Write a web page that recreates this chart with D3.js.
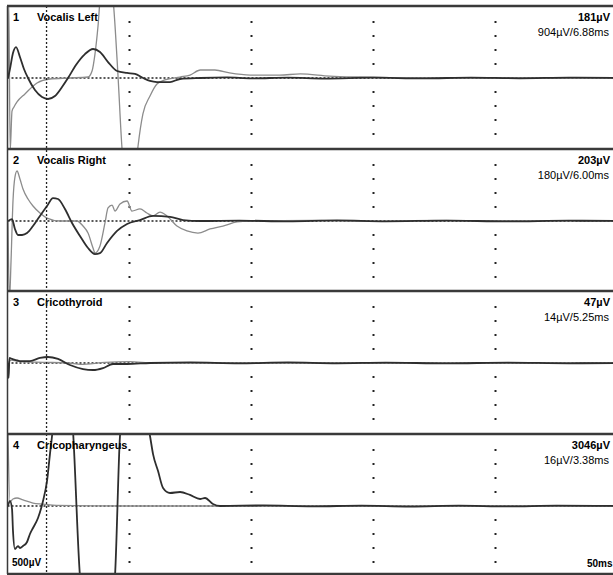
<!DOCTYPE html>
<html lang="en">

<head>
  <meta charset="UTF-8">
  <title>EMG traces</title>
  <style>
    body {
      margin: 0;
      background: #fff;
    }

    svg {
      display: block;
    }
  </style>
</head>

<body>
  <svg id="svg" width="613" height="575" font-family="'Liberation Sans', Arial, sans-serif" font-size="11"></svg>

  <script src="https://d3js.org/d3.v7.min.js"></script>
  <script>
    // channel labels
    var channelNums = ["1", "2", "3", "4"];
    var channelNames = ["Vocalis Left", "Vocalis Right", "Cricothyroid", "Cricopharyngeus"];
    var peakLabels = ["181µV", "203µV", "47µV", "3046µV"];
    var cursorLabels = ["904µV/6.88ms", "180µV/6.00ms", "14µV/5.25ms", "16µV/3.38ms"];

    // axis markers (ms, divisions)
    var gridMs = [10, 20, 30, 40, 50];
    var gridDiv = [-4, -3, -2, -1, 1, 2, 3, 4];
    var cursorMs = 3.2;
    var ampLabel = "500µV";
    var timeLabel = "50ms";

    // traces: [ms, divisions]; dark = first recording, light = second
    var dark1 = [[0.04, 0], [0.2, 0.64], [0.45, 1.79], [0.7, 2.21], [1.02, 1.5], [1.35, 0.64], [1.68, 0], [2.25, -0.86],
      [2.83, -1.36], [3.32, -1.5], [3.89, -1.29], [4.47, -0.64], [4.96, 0], [5.61, 0.93], [6.35, 1.71], [7.01, 2.07],
      [7.58, 1.86], [8.24, 1.14], [8.98, 0.5], [9.8, 0.36], [10.45, 0.29], [11.11, 0], [11.68, -0.21], [12.25, -0.29],
      [13.32, -0.29], [14.14, -0.07], [15.8, 0], [18, 0.04], [20, -0.03], [23, 0.03], [26, -0.04], [30, 0.02],
      [34, -0.03], [38, 0.03], [42, -0.02], [46, 0.03], [50, 0]];
    var light1 = [[0.04, 0], [0.1, 5.6], [0.22, -5.2], [0.37, -2.36], [0.53, -2.07], [0.78, -1.71], [1.43, -1.14],
      [2.42, -0.36], [3.48, -0.07], [5.1, 0], [6.6, 0.07], [6.93, 0.5], [7.17, 1.71], [7.42, 3.71], [7.66, 6.36],
      [7.9, 7.1], [8.4, 7.1], [8.65, 5.64], [9.05, 0.29], [9.39, -5.07], [9.6, -6.9], [10.45, -6.9], [10.7, -4.86],
      [11.1, -2.57], [11.68, -1.29], [12.25, -0.43], [12.9, -0.14], [14.14, 0.07], [14.96, 0.21], [15.8, 0.57],
      [17.0, 0.57], [18.2, 0.36], [19.9, 0.21], [22.3, 0.21], [24.0, 0.29], [26.4, 0.14], [28.9, 0.07], [32, 0.02],
      [40, 0], [50, 0]];

    var dark2 = [[0.04, 0], [0.37, 0.14], [0.61, -0.57], [0.86, -1.0], [1.19, -1.0], [1.6, -0.86], [2.09, -0.36],
      [2.66, 0.36], [3.24, 1.07], [3.73, 1.64], [4.14, 1.57], [4.71, 0.86], [5.29, -0.14], [5.94, -1.07], [6.6, -1.93],
      [7.17, -2.36], [7.58, -2.29], [8.16, -1.57], [8.98, -0.71], [9.8, -0.21], [10.86, 0.07], [11.93, 0.36],
      [13.32, 0.29], [14.39, 0.07], [15.78, 0], [19, 0.03], [23, -0.03], [27, 0.04], [31, -0.02], [36, 0.03],
      [41, -0.03], [46, 0.02], [50, 0]];
    var light2 = [[0.04, 0], [0.16, -5.7], [0.29, -2.86], [0.45, 1.43], [0.61, 3.14], [0.78, 3.57], [1.02, 3.0],
      [1.27, 2.29], [1.68, 1.57], [2.09, 1.07], [2.66, 0.57], [3.24, 0.21], [4.3, 0], [5.7, 0], [6.19, -0.36],
      [6.6, -0.86], [7.01, -1.93], [7.17, -2.29], [7.58, -1.79], [7.99, -0.14], [8.24, 0.93], [8.57, 1.14],
      [8.81, 0.71], [9.22, 1.21], [9.8, 1.43], [10.2, 0.71], [10.86, 0.86], [11.43, 0.57], [11.93, 0.36], [12.5, 0.64],
      [13.07, 0.36], [13.89, -0.36], [14.71, -0.71], [15.61, -0.86], [16.6, -0.57], [17.66, -0.36], [18.81, -0.07],
      [19.88, 0], [25, 0.05], [30, -0.03], [35, 0.04], [40, 0], [45, 0.02], [50, 0]];

    var dark3 = [[0.04, 0], [0.09, -1.07], [0.16, 0.36], [0.37, 0.29], [0.7, 0.21], [1.02, 0.14], [1.84, 0.14],
      [2.66, 0.36], [3.32, 0.43], [4.14, 0.29], [5.12, -0.14], [6.19, -0.43], [7.01, -0.5], [7.83, -0.36],
      [8.65, -0.07], [9.8, -0.07], [11.68, 0], [15, 0.04], [19, -0.03], [23, 0.04], [27, -0.02], [31, 0.03],
      [36, -0.03], [41, 0.03], [46, -0.02], [50, 0]];
    var light3 = [[0.04, 0], [0.3, 0.2], [1, 0.1], [3, 0.05], [5, 0], [6, -0.1], [8, 0.05], [10, 0.1], [12, 0],
      [50, 0]];

    var dark4 = [[0.04, 0], [0.2, 0.36], [0.37, -0.21], [0.45, -1.79], [0.61, -3.07], [0.86, -2.86], [1.02, -3.0],
      [1.27, -2.86], [1.6, -2.57], [1.84, -2.0], [2.09, -1.57], [2.5, -0.86], [2.91, 0.36], [3.24, 1.79],
      [3.48, 3.71], [3.65, 5.0], [3.89, 7.5], [5.12, 8.2], [5.37, 5.36], [5.94, -5.0], [6.19, -6.8], [8.57, -6.8],
      [8.81, -5.0], [9.22, 5.0], [9.47, 6.8], [11.27, 6.8], [11.68, 5.0], [11.93, 3.71], [12.34, 2.5],
      [12.75, 1.29], [13.32, 0.93], [14.14, 1.0], [14.96, 0.79], [15.78, 0.5], [16.19, 0.57], [16.84, 0.14],
      [17.42, 0], [21, 0.04], [25, -0.03], [29, 0.03], [33, -0.04], [37, 0.02], [41, -0.03], [45, 0.02], [50, 0]];
    var light4 = [[0.04, 5.2], [0.2, 0.3], [0.45, 0.5], [0.78, 0.57], [1.27, 0.43], [2.09, 0.21], [2.91, 0.14],
      [4, 0.05], [10, 0], [50, 0]];

    var darkTraces = [dark1, dark2, dark3, dark4];
    var lightTraces = [light1, light2, light3, light4];

    var svg = d3.select("svg"),
      width = +svg.attr("width"),
      height = +svg.attr("height"),
      panelTops = [6, 149, 291, 434],
      panelH = 142,
      bottom = 574;

    var x = d3.scaleLinear()
      .domain([0, 50])
      .range([7.5, 617.5]);

    channelNames.forEach(function (name, i) {
      var top = panelTops[i];
      var y = d3.scaleLinear()
        .domain([-5, 5])
        .range([top + panelH, top + 2]);

      var g = svg.append("g");

      g.append("clipPath")
        .attr("id", "clip" + i)
        .append("rect")
        .attr("x", 8)
        .attr("y", top + 1)
        .attr("width", width)
        .attr("height", panelH - 1);

      // grid dots
      gridMs.forEach(function (ms) {
        g.selectAll(null)
          .data(gridDiv)
          .enter().append("rect")
          .attr("x", x(ms) - 1)
          .attr("y", function (d) { return y(d) - 1; })
          .attr("width", 2)
          .attr("height", 2)
          .attr("fill", "#222");
      });

      // baseline
      g.append("line")
        .attr("x1", x(0))
        .attr("x2", width)
        .attr("y1", y(0))
        .attr("y2", y(0))
        .attr("stroke", "#222")
        .attr("stroke-width", 1.3)
        .attr("stroke-dasharray", "2,2");

      var line = d3.line()
        .x(function (d) { return x(d[0]); })
        .y(function (d) { return y(d[1]); })
        .curve(d3.curveMonotoneX);

      var traces = g.append("g").attr("clip-path", "url(#clip" + i + ")");

      traces.append("path")
        .attr("d", line(lightTraces[i]))
        .attr("fill", "none")
        .attr("stroke", "#8c8c8c")
        .attr("stroke-width", 1.3);

      traces.append("path")
        .attr("d", line(darkTraces[i]))
        .attr("fill", "none")
        .attr("stroke", "#2e2e2e")
        .attr("stroke-width", 1.8);

      // labels
      g.append("text")
        .attr("x", 13)
        .attr("y", top + 15)
        .attr("font-weight", "bold")
        .text(channelNums[i]);

      g.append("text")
        .attr("x", 37)
        .attr("y", top + 15)
        .attr("font-weight", "bold")
        .text(name);

      g.append("text")
        .attr("x", 610)
        .attr("y", top + 15)
        .attr("text-anchor", "end")
        .attr("font-weight", "bold")
        .text(peakLabels[i]);

      g.append("text")
        .attr("x", 609)
        .attr("y", top + 30)
        .attr("text-anchor", "end")
        .text(cursorLabels[i]);
    });

    // cursor
    svg.append("line")
      .attr("x1", x(cursorMs))
      .attr("x2", x(cursorMs))
      .attr("y1", panelTops[0])
      .attr("y2", bottom)
      .attr("stroke", "#222")
      .attr("stroke-width", 1.3)
      .attr("stroke-dasharray", "2,2");

    // frame
    svg.selectAll(null)
      .data(panelTops.concat([bottom]))
      .enter().append("line")
      .attr("x1", 7)
      .attr("x2", width)
      .attr("y1", function (d) { return d; })
      .attr("y2", function (d) { return d; })
      .attr("stroke", "#3a3a3a")
      .attr("stroke-width", 2.5);

    svg.append("line")
      .attr("x1", 7.5)
      .attr("x2", 7.5)
      .attr("y1", panelTops[0])
      .attr("y2", bottom)
      .attr("stroke", "#3a3a3a")
      .attr("stroke-width", 1.5);

    svg.append("text")
      .attr("x", 12)
      .attr("y", 566)
      .attr("font-weight", "bold")
      .attr("font-size", 10)
      .text(ampLabel);

    svg.append("text")
      .attr("x", 587)
      .attr("y", 567)
      .attr("font-weight", "bold")
      .attr("font-size", 10)
      .text(timeLabel);
  </script>
</body>

</html>
